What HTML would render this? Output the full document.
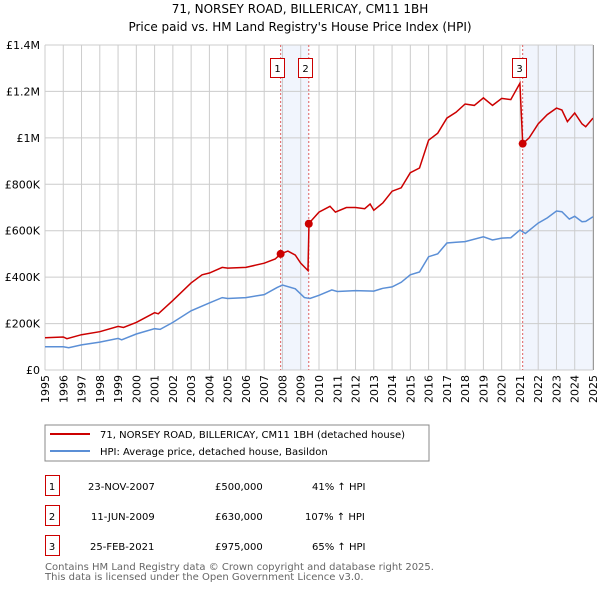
<!DOCTYPE html>
<html><head><meta charset="utf-8"><style>
body{margin:0;background:#fff;font-family:"DejaVu Sans","Liberation Sans",sans-serif;}
svg text{font-family:"DejaVu Sans","Liberation Sans",sans-serif;}
</style></head><body>
<svg id="c" width="600" height="590" xmlns="http://www.w3.org/2000/svg">
<text x="300" y="13" text-anchor="middle" font-size="12">71, NORSEY ROAD, BILLERICAY, CM11 1BH</text>
<text x="300" y="31" text-anchor="middle" font-size="12">Price paid vs. HM Land Registry's House Price Index (HPI)</text>
<g id="plot"></g>
<rect x="45" y="425" width="384" height="36" fill="none" stroke="#888"/>
<line x1="50" y1="434" x2="90" y2="434" stroke="#cc0000" stroke-width="2"/>
<text x="100" y="438" font-size="10">71, NORSEY ROAD, BILLERICAY, CM11 1BH (detached house)</text>
<line x1="50" y1="451" x2="90" y2="451" stroke="#5b8fd6" stroke-width="2"/>
<text x="100" y="455" font-size="10">HPI: Average price, detached house, Basildon</text>
<g font-size="10">
<rect x="45.5" y="475.5" width="14" height="20" fill="none" stroke="#cc0000"/><text x="52" y="490" text-anchor="middle">1</text>
<text x="88" y="490">23-NOV-2007</text><text x="215" y="490">£500,000</text><text x="312" y="490">41% ↑ HPI</text>
<rect x="45.5" y="505.5" width="14" height="20" fill="none" stroke="#cc0000"/><text x="52" y="520" text-anchor="middle">2</text>
<text x="91" y="520">11-JUN-2009</text><text x="215" y="520">£630,000</text><text x="305" y="520">107% ↑ HPI</text>
<rect x="45.5" y="535.5" width="14" height="20" fill="none" stroke="#cc0000"/><text x="52" y="550" text-anchor="middle">3</text>
<text x="90" y="550">25-FEB-2021</text><text x="215" y="550">£975,000</text><text x="312" y="550">65% ↑ HPI</text>
</g>
<text x="45" y="570" font-size="10" fill="#666">Contains HM Land Registry data © Crown copyright and database right 2025.</text>
<text x="45" y="580" font-size="10" fill="#666">This data is licensed under the Open Government Licence v3.0.</text>
</svg>
<script>
const yearTicks=[1995,1996,1997,1998,1999,2000,2001,2002,2003,2004,2005,2006,2007,2008,2009,2010,2011,2012,2013,2014,2015,2016,2017,2018,2019,2020,2021,2022,2023,2024,2025];
const priceTicks=[0,200000,400000,600000,800000,1000000,1200000,1400000];
const priceLabels=["£0","£200K","£400K","£600K","£800K","£1M","£1.2M","£1.4M"];
const hpiT=[1995,1996,1996.3,1997,1998,1999,1999.2,2000,2001,2001.3,2002,2003,2004,2004.7,2005,2006,2007,2007.7,2008,2008.7,2009.2,2009.5,2010,2010.7,2011,2012,2013,2013.5,2014,2014.5,2015,2015.5,2016,2016.5,2017,2017.5,2018,2019,2019.5,2020,2020.5,2021,2021.3,2022,2022.5,2023,2023.3,2023.7,2024,2024.4,2024.6,2025];
const hpiV=[100000,100000,96000,108000,120000,136000,130000,155000,178000,175000,205000,255000,289000,312000,308000,312000,325000,355000,366000,350000,312000,308000,322000,345000,338000,342000,340000,352000,358000,378000,410000,422000,488000,500000,547000,550000,553000,574000,560000,568000,570000,603000,588000,633000,655000,685000,682000,650000,662000,639000,640000,660000];
const ppT=[1995,1996,1996.2,1997,1998,1999,1999.3,2000,2001,2001.2,2002,2003,2003.6,2004,2004.7,2005,2006,2007,2007.6,2007.9,2008.3,2008.7,2009.0,2009.4,2009.45,2010,2010.6,2010.9,2011.5,2012,2012.5,2012.8,2013,2013.5,2014,2014.5,2015,2015.5,2016,2016.5,2017,2017.5,2018,2018.5,2019,2019.5,2020,2020.5,2021,2021.15,2021.5,2022,2022.5,2023,2023.3,2023.6,2024,2024.4,2024.6,2025];
const ppV=[139000,142000,135000,152000,165000,188000,183000,205000,247000,242000,300000,375000,410000,418000,442000,439000,442000,460000,478000,500000,512000,495000,460000,428000,632000,680000,705000,680000,700000,700000,695000,715000,688000,720000,770000,785000,850000,870000,990000,1020000,1085000,1110000,1146000,1140000,1172000,1140000,1170000,1165000,1235000,975000,1000000,1060000,1100000,1128000,1120000,1070000,1107000,1060000,1048000,1085000];
const sales=[{t:2007.9,v:500000,n:"1"},{t:2009.44,v:630000,n:"2"},{t:2021.15,v:975000,n:"3"}];
const X=t=>45+(t-1995)*(593-45)/30;
const Y=v=>370-v/1400000*325;
const NS="http://www.w3.org/2000/svg";
const g=document.getElementById('plot');
function mk(tag,a){const e=document.createElementNS(NS,tag);for(const k in a)e.setAttribute(k,a[k]);g.appendChild(e);return e;}
let e;
e=mk('rect',{x:X(2007.9),y:Y(1400000),width:X(2009.44)-X(2007.9),height:325,fill:'#eef3fc',opacity:0.8});


e=mk('rect',{x:X(2021.15),y:Y(1400000),width:X(2025)-X(2021.15),height:325,fill:'#eef3fc',opacity:0.8});


yearTicks.forEach(t=>{
 e=mk('line',{x1:X(t),x2:X(t),y1:Y(1400000),y2:370,stroke:'#ccc'});
 
 
 e=mk('text',{x:0,y:0,'font-size':11,'text-anchor':'end',transform:`translate(${X(t)+4},375) rotate(-90)`});
 e.textContent=t;
 
 
});
priceTicks.forEach((v,i)=>{
 e=mk('line',{x1:45,x2:593,y1:Y(v),y2:Y(v),stroke:'#ccc'});
 
 
 e=mk('text',{x:40,y:Y(v)+4,'font-size':11,'text-anchor':'end'});
 e.textContent=priceLabels[i];
 
 
});
sales.forEach(s=>{
 e=mk('line',{x1:X(s.t),x2:X(s.t),y1:Y(1400000),y2:370,stroke:'#e06060','stroke-dasharray':'2,2'});
 
 
});
function path(T,V,c,name){
 e=mk('path',{d:T.map((t,i)=>(i?'L':'M')+X(t).toFixed(1)+','+Y(V[i]).toFixed(1)).join(''),fill:'none',stroke:c,'stroke-width':1.5});
 
 
}
path(hpiT,hpiV,'#5b8fd6','hpi-line');
path(ppT,ppV,'#cc0000','property-line');
sales.forEach(s=>{
 e=mk('circle',{cx:X(s.t),cy:Y(s.v),r:4,fill:'#cc0000'});
 
 
 const bx=Math.round(X(s.t))-11;
 e=mk('rect',{x:bx+0.5,y:58.5,width:14,height:19,fill:'#fff',stroke:'#cc0000'});
 
 
 e=mk('text',{x:bx+7.5,y:72,'font-size':10,'text-anchor':'middle'});
 e.textContent=s.n;
 
 
});
e=mk('line',{x1:593.5,x2:593.5,y1:Y(1400000),y2:370,stroke:'#999'});


</script>
</body></html>
